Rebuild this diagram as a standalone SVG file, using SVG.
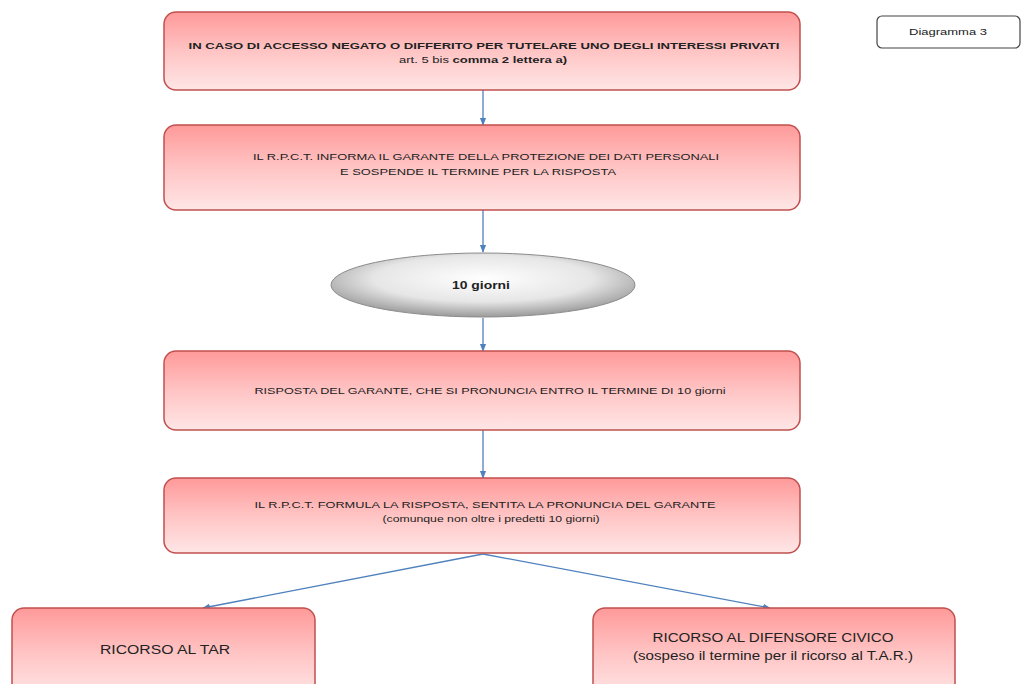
<svg xmlns="http://www.w3.org/2000/svg" width="1023" height="684" viewBox="0 0 1023 684">
<style>
.box{fill:url(#pink);stroke:#c0504d;stroke-width:1.5}
.t{font-family:"Liberation Sans",Arial,sans-serif;fill:#222;text-anchor:middle}
.s9{font-size:9px}
.b{font-weight:bold}
.s12{font-size:12px}
.conn{stroke:#4f81bd;stroke-width:1.3;fill:none;marker-end:url(#arr)}
</style>
<defs>
<linearGradient id="pink" x1="0" y1="0" x2="0" y2="1">
<stop offset="0" stop-color="#ff9999"/>
<stop offset="0.5" stop-color="#ffc4c4"/>
<stop offset="1" stop-color="#ffe6e6"/>
</linearGradient>
<radialGradient id="grey" cx="0.5" cy="0.4" r="0.6">
<stop offset="0" stop-color="#ffffff"/>
<stop offset="0.6" stop-color="#e6e6e6"/>
<stop offset="1" stop-color="#9a9a9a"/>
</radialGradient>
<marker id="arr" viewBox="0 0 10 10" refX="9" refY="5" markerWidth="6" markerHeight="6" orient="auto">
<path d="M0,1 L10,5 L0,9 Z" fill="#4f81bd"/>
</marker>
</defs>
<rect width="1023" height="684" fill="#ffffff"/>
<g id="connectors">
<line class="conn" x1="483" y1="90" x2="483" y2="125"/>
<line class="conn" x1="483" y1="210" x2="483" y2="252"/>
<line class="conn" x1="483" y1="318" x2="483" y2="351"/>
<line class="conn" x1="483" y1="430" x2="483" y2="478"/>
<line class="conn" x1="483" y1="554" x2="203" y2="608"/>
<line class="conn" x1="483" y1="554" x2="770" y2="608"/>
</g>
<g id="n1">
<rect class="box" x="164" y="12" width="636" height="78" rx="12"/>
<text class="t s9 b" x="484" y="49" textLength="591" lengthAdjust="spacingAndGlyphs">IN CASO DI ACCESSO NEGATO  O DIFFERITO PER TUTELARE UNO DEGLI INTERESSI  PRIVATI</text>
<text class="t s9" x="483" y="63" textLength="168" lengthAdjust="spacingAndGlyphs">art. 5 bis <tspan class="b">comma 2 lettera a)</tspan></text>
</g>
<g id="n2">
<rect class="box" x="164" y="125" width="636" height="85" rx="12"/>
<text class="t s9" x="486" y="160" textLength="466" lengthAdjust="spacingAndGlyphs">IL  R.P.C.T. INFORMA IL GARANTE DELLA PROTEZIONE DEI DATI PERSONALI</text>
<text class="t s9" x="478" y="175" textLength="276" lengthAdjust="spacingAndGlyphs">E SOSPENDE  IL TERMINE  PER LA RISPOSTA</text>
</g>
<g id="n3">
<ellipse cx="483" cy="285" rx="152" ry="32" fill="url(#grey)" stroke="#8c8c8c" stroke-width="1"/>
<text class="t b" style="font-size:10px" x="481" y="289" textLength="58" lengthAdjust="spacingAndGlyphs">10 giorni</text>
</g>
<g id="n4">
<rect class="box" x="164" y="351" width="636" height="79" rx="12"/>
<text class="t s9" x="490" y="394" textLength="471" lengthAdjust="spacingAndGlyphs">RISPOSTA DEL GARANTE,  CHE SI PRONUNCIA  ENTRO IL TERMINE DI 10 giorni</text>
</g>
<g id="n5">
<rect class="box" x="164" y="478" width="636" height="75" rx="12"/>
<text class="t s9" x="485" y="508" textLength="461" lengthAdjust="spacingAndGlyphs">IL R.P.C.T.  FORMULA LA RISPOSTA,  SENTITA LA PRONUNCIA  DEL GARANTE</text>
<text class="t s9" x="491" y="522" textLength="217" lengthAdjust="spacingAndGlyphs">(comunque  non oltre  i predetti 10 giorni)</text>
</g>
<g id="n6">
<rect class="box" x="12" y="608" width="303" height="90" rx="12"/>
<text class="t s12" x="165" y="654" textLength="130" lengthAdjust="spacingAndGlyphs">RICORSO AL TAR</text>
</g>
<g id="n7">
<rect class="box" x="593" y="608" width="362" height="90" rx="12"/>
<text class="t s12" x="773" y="642" textLength="241" lengthAdjust="spacingAndGlyphs">RICORSO AL DIFENSORE CIVICO</text>
<text class="t s12" x="773" y="660" textLength="280" lengthAdjust="spacingAndGlyphs">(sospeso il termine per il ricorso al T.A.R.)</text>
</g>
<g id="label">
<rect x="877" y="16" width="143" height="32" rx="5" fill="#ffffff" stroke="#444" stroke-width="1.2"/>
<text class="t s9" x="948" y="35" textLength="78" lengthAdjust="spacingAndGlyphs">Diagramma  3</text>
</g>
</svg>
